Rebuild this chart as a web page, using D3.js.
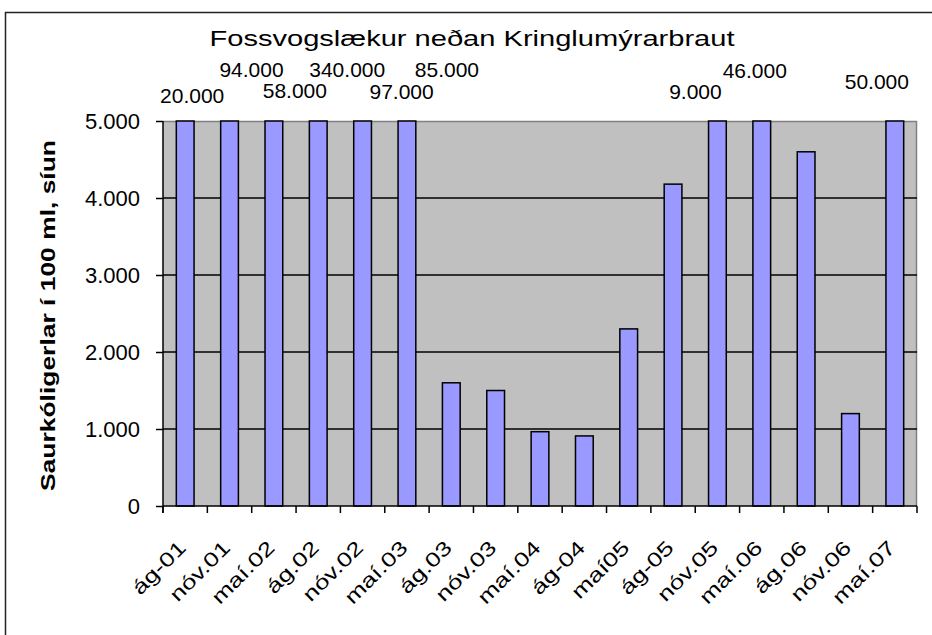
<!DOCTYPE html>
<html>
<head>
<meta charset="utf-8">
<script src="https://cdn.jsdelivr.net/npm/d3@7"></script>
<style>
  body { margin: 0; background: #fff; }
  text { font-family: "Liberation Sans", Arial, sans-serif; fill: #000; }
</style>
</head>
<body>
<script>
// data (Icelandic number format, thousands with ".")
var categories = ["ág-01", "nóv.01", "maí.02", "ág.02", "nóv.02", "maí.03", "ág.03", "nóv.03",
                  "maí.04", "ág-04", "maí05", "ág-05", "nóv.05", "maí.06", "ág.06", "nóv.06", "maí.07"];
var values = [20000, 94000, 58000, 340000, 97000, 85000, 1600, 1500,
              965, 910, 2300, 4180, 9000, 46000, 4600, 1200, 50000];
var yTicks = [0, 1000, 2000, 3000, 4000, 5000];
var yMax = 5000;
var title = "Fossvogslækur neðan Kringlumýrarbraut";
var yTitle = "Saurkóligerlar í 100 ml, síun";

// label nudges for the bars that run off the top (dx from bar centre, baseline y)
var labelNudge = {0: [7, 103], 1: [22, 77], 2: [21, 98], 3: [29, 77], 4: [39, 99],
                  5: [40, 77], 12: [-22, 99], 13: [-7, 78], 16: [-18, 89]};

var margin = {top: 121, right: 15, bottom: 129, left: 163},
    W = 932, H = 635,
    width = W - margin.left - margin.right,
    height = H - margin.top - margin.bottom;

var isl = d3.formatLocale({decimal: ",", thousands: ".", grouping: [3], currency: ["", ""]});
var fmt = isl.format(",d");

var svg = d3.select("body").append("svg")
    .attr("width", W).attr("height", H);

// outer frame (right and bottom fall off the page)
svg.append("rect")
    .attr("x", 5.5).attr("y", 12.5)
    .attr("width", 960).attr("height", 660)
    .attr("fill", "none").attr("stroke", "#222").attr("stroke-width", 1.5);

svg.append("text")
    .attr("x", 472).attr("y", 46)
    .attr("text-anchor", "middle")
    .style("font-size", "22px")
    .attr("textLength", 525).attr("lengthAdjust", "spacingAndGlyphs")
    .text(title);

var g = svg.append("g")
    .attr("transform", "translate(" + margin.left + "," + margin.top + ")");

var x = d3.scaleBand().domain(categories).range([0, width]).paddingInner(0.6).paddingOuter(0.3);
var y = d3.scaleLinear().domain([0, yMax]).range([height, 0]);

g.append("rect")
    .attr("width", width).attr("height", height)
    .attr("fill", "#c0c0c0");

// plot border top / right
g.append("path")
    .attr("d", "M0,0.5H" + (width - 0.5) + "V" + height)
    .attr("fill", "none").attr("stroke", "#808080").attr("stroke-width", 1.5);

// gridlines
g.selectAll(".grid")
    .data(yTicks.filter(function(d) { return d > 0 && d < yMax; }))
  .enter().append("line")
    .attr("x1", 0).attr("x2", width)
    .attr("y1", function(d) { return y(d); })
    .attr("y2", function(d) { return y(d); })
    .attr("stroke", "#000").attr("stroke-width", 1.5);

// bars (clipped at the top of the axis)
g.selectAll(".bar")
    .data(values)
  .enter().append("rect")
    .attr("x", function(d, i) { return x(categories[i]); })
    .attr("width", x.bandwidth())
    .attr("y", function(d) { return y(Math.min(d, yMax)); })
    .attr("height", function(d) { return height - y(Math.min(d, yMax)); })
    .attr("fill", "#9999ff").attr("stroke", "#000").attr("stroke-width", 1.5);

// value labels for bars beyond the axis
values.forEach(function(d, i) {
  if (d <= yMax) return;
  var n = labelNudge[i] || [0, 100];
  svg.append("text")
      .attr("x", margin.left + x(categories[i]) + x.bandwidth() / 2 + n[0])
      .attr("y", n[1])
      .attr("text-anchor", "middle")
      .style("font-size", "21px")
      .text(fmt(d));
});

// y axis
var yAxis = g.append("g")
    .call(d3.axisLeft(y).tickValues(yTicks).tickSize(7).tickPadding(16).tickFormat(fmt));
yAxis.select(".domain").attr("stroke", "#000").attr("stroke-width", 1.5)
    .attr("d", "M0," + (height + 7) + "V0");
yAxis.selectAll(".tick line").attr("stroke", "#000").attr("stroke-width", 1.5);
yAxis.selectAll(".tick text")
    .style("font-size", "22px").style("font-family", "Liberation Sans, Arial, sans-serif")
    .attr("dy", "0.36em");

// x axis: line, ticks on category boundaries, rotated labels
g.append("line")
    .attr("x1", 0).attr("x2", width)
    .attr("y1", height).attr("y2", height)
    .attr("stroke", "#000").attr("stroke-width", 1.5);

var step = x.step();
g.selectAll(".xtick")
    .data(categories.concat(["_end"]))
  .enter().append("line")
    .attr("x1", function(d, i) { return x(categories[0]) - x.paddingOuter() * step + i * step; })
    .attr("x2", function(d, i) { return x(categories[0]) - x.paddingOuter() * step + i * step; })
    .attr("y1", height).attr("y2", height + 7)
    .attr("stroke", "#000").attr("stroke-width", 1.5);

g.selectAll(".xlab")
    .data(categories)
  .enter().append("text")
    .attr("text-anchor", "end")
    .attr("transform", function(d) {
      return "translate(" + (x(d) + x.bandwidth() / 2 + 2) + "," + (height + 43) + ") rotate(-45)";
    })
    .style("font-size", "20px")
    .text(function(d) { return d; })
    .each(function() {
      var len = this.getComputedTextLength();
      d3.select(this).attr("textLength", len * 1.3).attr("lengthAdjust", "spacingAndGlyphs");
    });

// y axis title
svg.append("text")
    .attr("transform", "translate(55," + (margin.top + height / 2 + 2) + ") rotate(-90)")
    .attr("text-anchor", "middle")
    .style("font-size", "21px").style("font-weight", "bold")
    .attr("textLength", 351).attr("lengthAdjust", "spacingAndGlyphs")
    .text(yTitle);
</script>
</body>
</html>
